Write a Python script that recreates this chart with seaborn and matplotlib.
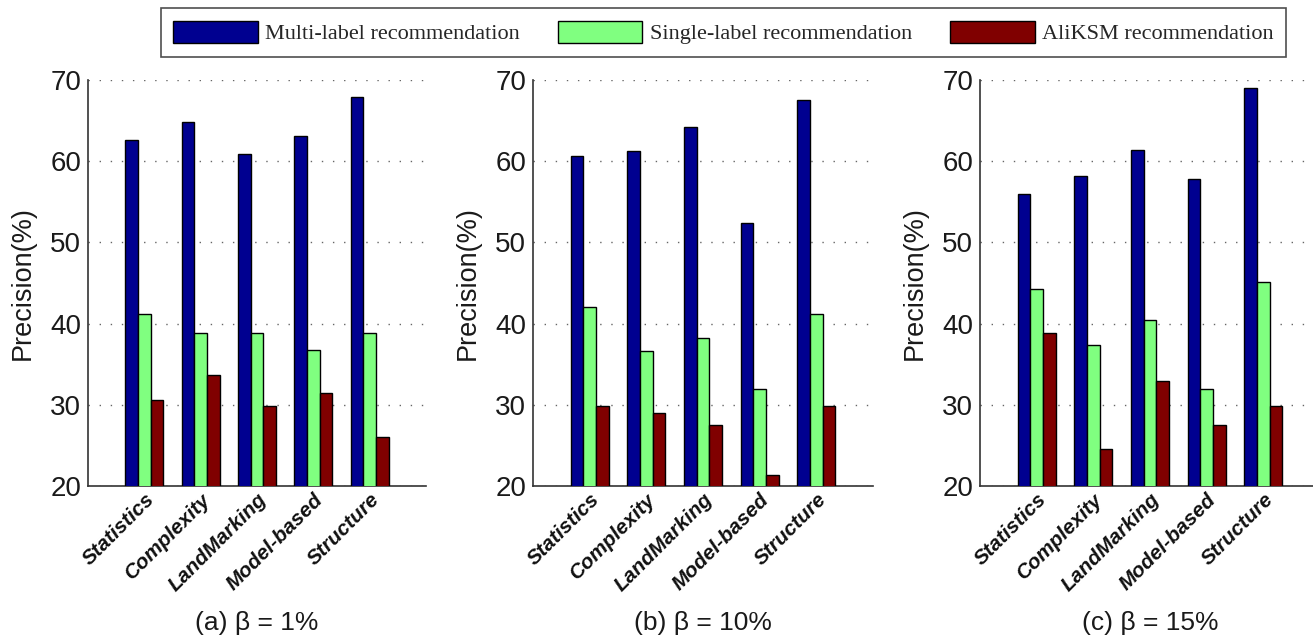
import numpy as np
import pandas as pd
import matplotlib
matplotlib.use("Agg")
import matplotlib.pyplot as plt
from matplotlib.patches import Patch
import seaborn as sns

# Feature groups on the x axis
categories = ["Statistics", "Complexity", "LandMarking", "Model-based", "Structure"]
methods = ["Multi-label recommendation", "Single-label recommendation", "AliKSM recommendation"]
panel_titles = ["(a) \u03b2 = 1%", "(b) \u03b2 = 10%", "(c) \u03b2 = 15%"]

# Precision (%) per panel, one list per method
multi_b1 = [62.6, 64.8, 60.9, 63.1, 67.9]
single_b1 = [41.2, 38.9, 38.9, 36.7, 38.9]
aliksm_b1 = [30.6, 33.7, 29.8, 31.4, 26.0]

multi_b10 = [60.7, 61.3, 64.2, 52.4, 67.5]
single_b10 = [42.0, 36.6, 38.2, 32.0, 41.2]
aliksm_b10 = [29.8, 29.0, 27.5, 21.4, 29.8]

multi_b15 = [56.0, 58.2, 61.4, 57.8, 69.0]
single_b15 = [44.3, 37.4, 40.4, 32.0, 45.1]
aliksm_b15 = [38.9, 24.5, 32.9, 27.5, 29.8]

panels = [
    (multi_b1, single_b1, aliksm_b1),
    (multi_b10, single_b10, aliksm_b10),
    (multi_b15, single_b15, aliksm_b15),
]

colors = ["#000090", "#80FF80", "#800000"]
palette = dict(zip(methods, colors))

sns.set_theme(style="white")
plt.rcParams["font.family"] = ["Liberation Sans", "DejaVu Sans"]

W, H = 1313, 642
fig = plt.figure(figsize=(W / 100, H / 100), dpi=100)

# axes boxes in pixels: left, right
boxes = [(88, 426), (533, 873), (980, 1320)]
top_px, bottom_px = 80, 486

for (l, r), series, title in zip(boxes, panels, panel_titles):
    ax = fig.add_axes([l / W, 1 - bottom_px / H, (r - l) / W, (bottom_px - top_px) / H])
    rows = []
    for m, vals in zip(methods, series):
        for c, v in zip(categories, vals):
            rows.append({"category": c, "method": m, "precision": v})
    df = pd.DataFrame(rows)
    sns.barplot(data=df, x="category", y="precision", hue="method",
                order=categories, hue_order=methods, palette=palette,
                width=0.67, edgecolor="black", linewidth=1.0,
                saturation=1, legend=False, ax=ax, zorder=3)
    ax.set_xlim(-1, 5)
    ax.set_ylim(20, 70)
    ax.set_yticks([20, 30, 40, 50, 60, 70])
    ax.tick_params(axis="y", labelsize=20, direction="in", length=5, width=1,
                   color="#333333", pad=5, labelcolor="#1a1a1a")
    ax.tick_params(axis="x", length=0, pad=3)
    ax.set_xticks(range(len(categories)))
    ax.set_xticklabels(categories, rotation=45, ha="right", va="top",
                       rotation_mode="anchor", fontsize=15,
                       fontweight="bold", fontstyle="italic", color="#111111")
    ax.set_xlabel("")
    ax.set_ylabel("Precision(%)", fontsize=19.5, color="#1a1a1a", labelpad=10)
    ax.yaxis.grid(True, linestyle=(0, (1, 7)), color="#666666", linewidth=1.0, zorder=0)
    ax.xaxis.grid(False)
    for s in ["top", "right"]:
        ax.spines[s].set_visible(False)
    for s in ["left", "bottom"]:
        ax.spines[s].set_color("#333333")
        ax.spines[s].set_linewidth(1.2)
    ax.set_facecolor("white")
    fig.text(((l + r) / 2) / W, 1 - 623 / H, title, ha="center", va="center",
             fontsize=19, color="#1a1a1a")

handles = [Patch(facecolor=c, edgecolor="black", linewidth=1.0) for c in colors]
leg = fig.legend(handles, methods, loc="center", ncol=3,
                 bbox_to_anchor=(723.5 / W, 1 - 32.5 / H),
                 prop={"family": "Liberation Serif", "size": 16},
                 handlelength=3.8, handleheight=1.2, handletextpad=0.35,
                 columnspacing=1.7, borderpad=0.55, borderaxespad=0,
                 frameon=True, fancybox=False)
leg.get_frame().set_edgecolor("#222222")
leg.get_frame().set_linewidth(1.2)

fig.savefig("out.png", dpi=100, facecolor="white")
